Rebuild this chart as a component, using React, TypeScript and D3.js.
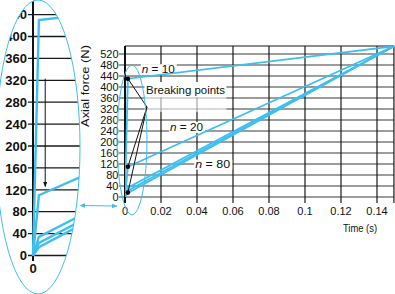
import React from "react";
import * as d3 from "d3";

// ---- data ----
const seriesNames = ["n = 10", "n = 20", "n = 80 (a)", "n = 80 (b)", "n = 80 (c)"];
const breakTime = [0.0016, 0.0016, 0.0016, 0.0016, 0.0016];
const breakForce = [430, 110, 34, 23, 15];
const endTime = [0.1494, 0.1494, 0.1494, 0.1494, 0.1494];
const endForce = [548, 548, 548, 548, 548];

const breakingPointTimes = [0.0016, 0.0016, 0.0016];
const breakingPointForces = [430, 110, 16];

const xTicks = [0, 0.02, 0.04, 0.06, 0.08, 0.1, 0.12, 0.14];
const xTickLabels = ["0", "0.02", "0.04", "0.06", "0.08", "0.1", "0.12", "0.14"];
const yTicks = [0, 40, 80, 120, 160, 200, 240, 280, 320, 360, 400, 440, 480, 520];
const yTickLabels = yTicks.map(String);
const zoomYTicks = [0, 40, 80, 120, 160, 200, 240, 280, 320, 360, 400, 440];

const BLUE = "#3dbff0";
const FONT = "'Liberation Sans', Arial, sans-serif";

export default function App() {
  const x = d3.scaleLinear().domain([0, 0.15]).range([125, 395]);
  const y = d3.scaleLinear().domain([0, 549]).range([197, 46]);
  // magnified inset scales
  const mx = d3.scaleLinear().domain([0, 0.02]).range([33, 107]);
  const my = d3.scaleLinear().domain([0, 440]).range([255.5, 14.6]);

  const series = seriesNames.map((name, i) => ({
    name,
    pts: [
      [0, 0],
      [breakTime[i], breakForce[i]],
      [endTime[i], endForce[i]],
    ] as [number, number][],
  }));

  const line = d3.line<[number, number]>().x((d) => x(d[0])).y((d) => y(d[1]));
  const mline = d3.line<[number, number]>().x((d) => mx(d[0])).y((d) => my(d[1]));

  const anchor = { t: 0.0122, f: 327 };

  return (
    <svg
      width={395}
      height={294}
      style={{ position: "absolute", left: 0, top: 0, background: "#fff" }}
      fontFamily={FONT}
    >
      <defs>
        <clipPath id="plotClip">
          <rect x={125} y={46} width={270} height={151} />
        </clipPath>
        <clipPath id="bigEll">
          <ellipse cx={38} cy={147} rx={42} ry={147} />
        </clipPath>
        <marker id="arrB" viewBox="0 0 10 10" refX="9" refY="5" markerWidth="6" markerHeight="6" orient="auto-start-reverse">
          <path d="M0,1 L10,5 L0,9 z" fill={BLUE} />
        </marker>
        <marker id="arrK" viewBox="0 0 10 10" refX="9" refY="5" markerWidth="5" markerHeight="6" orient="auto">
          <path d="M0,1 L10,5 L0,9 z" fill="#111" />
        </marker>
      </defs>

      {/* ---- main chart grid ---- */}
      {yTicks.map((t) => (
        <line key={"h" + t} x1={119} x2={394} y1={y(t)} y2={y(t)} stroke="#3a3a3a" strokeWidth={1.2} />
      ))}
      {xTicks.slice(1).concat([0.1494]).map((t) => (
        <line key={"v" + t} x1={x(t)} x2={x(t)} y1={46} y2={203} stroke="#1a1a1a" strokeWidth={1.2} />
      ))}
      <line x1={125} x2={394} y1={46} y2={46} stroke="#1a1a1a" strokeWidth={1.2} />
      <line x1={125} x2={125} y1={46} y2={203} stroke="#111" strokeWidth={2} />

      {/* tick labels */}
      {yTicks.map((t, i) => (
        <text key={"yl" + t} x={118.5} y={y(t) + 4} fontSize={11} textAnchor="end" fill="#111">
          {yTickLabels[i]}
        </text>
      ))}
      {xTicks.map((t, i) => (
        <text key={"xl" + t} x={x(t)} y={215} fontSize={11} textAnchor="middle" fill="#111">
          {xTickLabels[i]}
        </text>
      ))}
      <text x={377} y={231.5} fontSize={11} textAnchor="end" textLength={34} lengthAdjust="spacingAndGlyphs" fill="#111">
        Time (s)
      </text>
      <text
        transform="translate(89,86) rotate(-90)"
        fontSize={11}
        textAnchor="middle"
        textLength={82}
        lengthAdjust="spacingAndGlyphs"
        fill="#111"
      >
        Axial force (N)
      </text>

      {/* label backgrounds */}
      <rect x={x(0.0088)} y={y(483)} width={36} height={10} fill="#fff" />
      <rect x={x(0.0108)} y={y(418)} width={82} height={15} fill="#fff" />
      <rect x={x(0.0108)} y={y(364)} width={82} height={15} fill="#fff" opacity={0.6} />
      <rect x={x(0.0245)} y={y(273)} width={36} height={11} fill="#fff" />
      <rect x={x(0.0385)} y={y(136)} width={38} height={10} fill="#fff" />

      {/* series lines */}
      <g clipPath="url(#plotClip)">
        {series.map((s) => (
          <path key={s.name} d={line(s.pts) || ""} fill="none" stroke={BLUE} strokeWidth={1.8} />
        ))}
      </g>

      {/* breaking points leaders */}
      {breakingPointTimes.map((t, i) => (
        <line
          key={"ld" + i}
          x1={x(anchor.t)}
          y1={y(anchor.f)}
          x2={x(t)}
          y2={y(breakingPointForces[i])}
          stroke="#111"
          strokeWidth={1}
        />
      ))}
      {breakingPointTimes.map((t, i) => (
        <circle key={"bp" + i} cx={x(t)} cy={y(breakingPointForces[i])} r={2.3} fill="#000" />
      ))}

      {/* labels */}
      <text x={x(0.0093)} y={y(465) + 4} fontSize={11.5} fill="#111" textLength={33} lengthAdjust="spacingAndGlyphs">
        <tspan fontStyle="italic">n</tspan> = 10
      </text>
      <text x={x(0.0117)} y={y(392) + 4.5} fontSize={11.5} fill="#111" textLength={79} lengthAdjust="spacingAndGlyphs">
        Breaking points
      </text>
      <text x={x(0.025)} y={y(256) + 4} fontSize={11.5} fill="#111" textLength={33} lengthAdjust="spacingAndGlyphs">
        <tspan fontStyle="italic">n</tspan> = 20
      </text>
      <text x={x(0.039)} y={y(120) + 4} fontSize={11.5} fill="#111" textLength={35} lengthAdjust="spacingAndGlyphs">
        <tspan fontStyle="italic">n</tspan> = 80
      </text>

      {/* small ellipse */}
      <ellipse cx={132} cy={140} rx={15} ry={75} fill="none" stroke={BLUE} strokeWidth={1} />

      {/* ---- magnified inset ---- */}
      <g clipPath="url(#bigEll)">
        <rect x={-10} y={0} width={100} height={294} fill="#fff" />
        {zoomYTicks.map((t) => (
          <line key={"mh" + t} x1={28} x2={95} y1={my(t)} y2={my(t)} stroke="#1a1a1a" strokeWidth={1.3} />
        ))}
        <line x1={33} x2={33} y1={0} y2={261} stroke="#111" strokeWidth={2} />
        {zoomYTicks.map((t) => (
          <text key={"ml" + t} x={27} y={my(t) + 4.7} fontSize={13} fontWeight="bold" textAnchor="end" fill="#111">
            {t}
          </text>
        ))}
        <text x={33} y={273} fontSize={13} fontWeight="bold" textAnchor="middle" fill="#111">
          0
        </text>
        {series.map((s) => (
          <path key={"m" + s.name} d={mline(s.pts) || ""} fill="none" stroke={BLUE} strokeWidth={2.4} />
        ))}
        <line
          x1={mx(0.0033)}
          x2={mx(0.0033)}
          y1={my(323)}
          y2={my(126)}
          stroke="#111"
          strokeWidth={1}
          markerEnd="url(#arrK)"
        />
      </g>
      <ellipse cx={38} cy={147} rx={42} ry={147} fill="none" stroke={BLUE} strokeWidth={1} />

      {/* connector arrow */}
      <line
        x1={80}
        y1={205.5}
        x2={117}
        y2={206}
        stroke={BLUE}
        strokeWidth={1}
        markerStart="url(#arrB)"
        markerEnd="url(#arrB)"
      />
    </svg>
  );
}
